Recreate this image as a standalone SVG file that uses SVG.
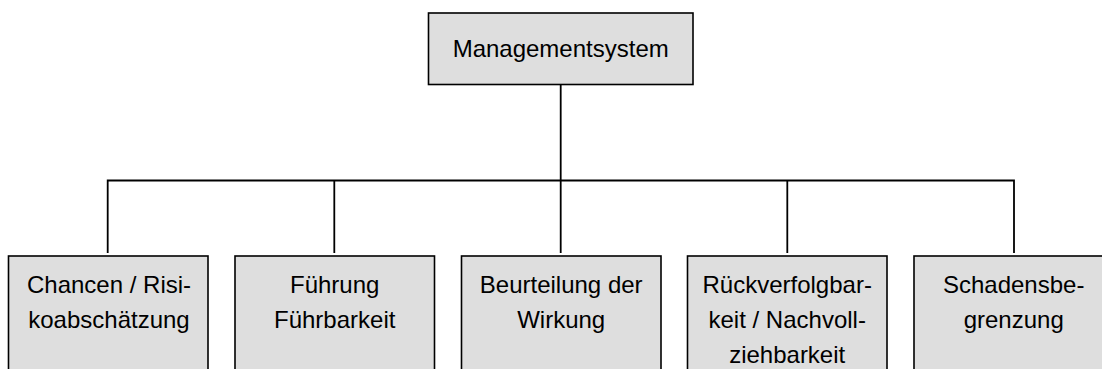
<svg xmlns="http://www.w3.org/2000/svg" width="1102" height="369" viewBox="0 0 1102 369">
<style>
.box{fill:#dedede;stroke:#000;stroke-width:1.6}
.t{font-family:"Liberation Sans",Arial,sans-serif;font-size:24px;fill:#000;text-anchor:middle}
.c{fill:none;stroke:#000;stroke-width:1.8}
</style>
<rect width="1102" height="369" fill="#fff"/>
<g id="connectors">
<path class="c" d="M560.7 85V180.5"/>
<path class="c" d="M107.7 253V180.5H1014V253"/>
<path class="c" d="M334.3 180.5V253"/>
<path class="c" d="M560.7 180.5V253"/>
<path class="c" d="M787.3 180.5V253"/>
</g>
<g id="root">
<rect class="box" x="428.5" y="13" width="264.5" height="71.5"/>
<text class="t" x="560.7" y="57">Managementsystem</text>
</g>
<g id="n1">
<rect class="box" x="8.5" y="256" width="199.5" height="130"/>
<text class="t" x="109" y="293">Chancen / Risi-</text>
<text class="t" x="109" y="328">koabschätzung</text>
</g>
<g id="n2">
<rect class="box" x="235" y="256" width="199.5" height="130"/>
<text class="t" x="334.7" y="293">Führung</text>
<text class="t" x="334.7" y="328">Führbarkeit</text>
</g>
<g id="n3">
<rect class="box" x="461.5" y="256" width="199.5" height="130"/>
<text class="t" x="561.2" y="293">Beurteilung der</text>
<text class="t" x="561.2" y="328">Wirkung</text>
</g>
<g id="n4">
<rect class="box" x="687.5" y="256" width="199.5" height="130"/>
<text class="t" x="787.2" y="293">Rückverfolgbar-</text>
<text class="t" x="787.2" y="328">keit / Nachvoll-</text>
<text class="t" x="787.2" y="363">ziehbarkeit</text>
</g>
<g id="n5">
<rect class="box" x="914" y="256" width="199.5" height="130"/>
<text class="t" x="1013.7" y="293">Schadensbe-</text>
<text class="t" x="1013.7" y="328">grenzung</text>
</g>
</svg>
